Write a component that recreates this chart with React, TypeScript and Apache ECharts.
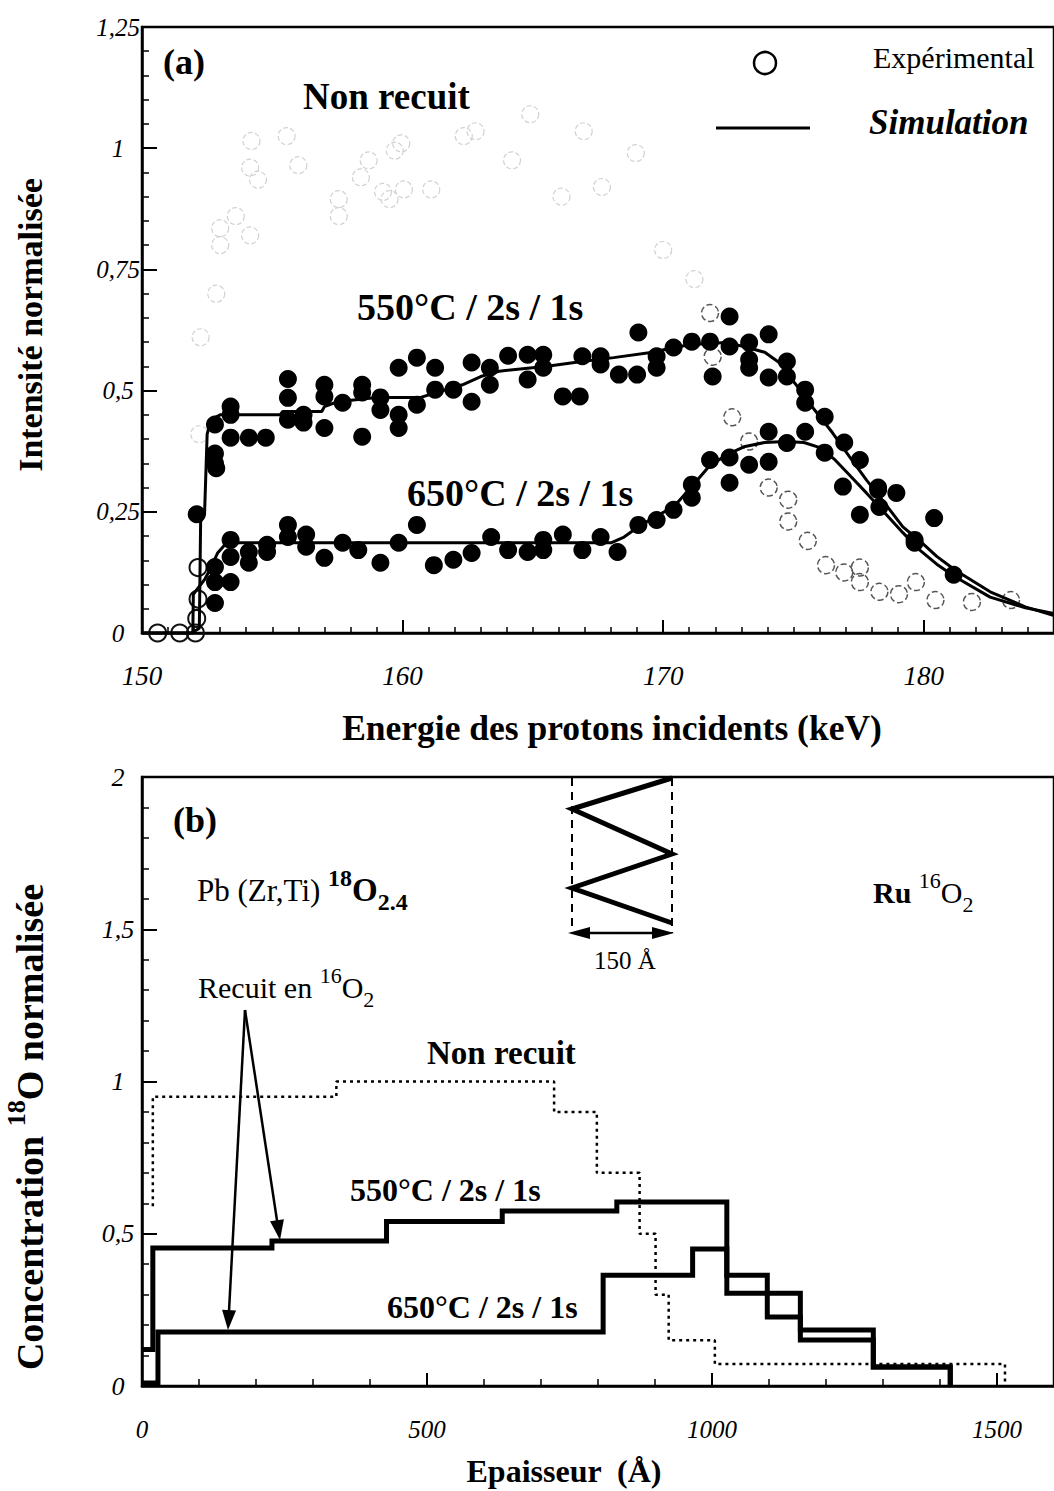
import React, { useEffect, useRef } from "react";
import * as echarts from "echarts";

const W = 1054;
const H = 1491;
const SERIF = '"Liberation Serif", "Times New Roman", serif';

// ---------- Panel (a) : spectres ----------
const aYTicks = [0, 0.25, 0.5, 0.75, 1, 1.25];
const aXRange = [150, 185];

// Non recuit, expérimental (cercles ouverts)
const aNonRecuit: [number, number][] = [
  [150.6, 0.0], [151.45, 0.0], [152.05, 0.0], [152.1, 0.03], [152.15, 0.07], [152.15, 0.135],
  [152.2, 0.41], [152.25, 0.61], [152.85, 0.7], [153.0, 0.8], [153.0, 0.835], [153.6, 0.86],
  [154.15, 0.82], [154.15, 0.96], [154.2, 1.015], [154.45, 0.935], [155.55, 1.025], [156.0, 0.965],
  [157.55, 0.86], [157.55, 0.895], [158.4, 0.94], [158.7, 0.975], [159.25, 0.91], [159.5, 0.895],
  [159.7, 0.995], [159.95, 1.01], [160.05, 0.915], [161.1, 0.915], [162.35, 1.025], [162.8, 1.035],
  [164.2, 0.975], [164.9, 1.07], [166.1, 0.9], [166.95, 1.035], [167.65, 0.92], [168.95, 0.99],
  [170.0, 0.79], [171.2, 0.73], [171.8, 0.66], [171.9, 0.57], [172.65, 0.445], [173.3, 0.395],
  [174.05, 0.3], [174.8, 0.275], [174.8, 0.23], [175.55, 0.19], [176.25, 0.14], [176.95, 0.125],
  [177.55, 0.135], [177.55, 0.105], [178.3, 0.085], [179.05, 0.08], [179.7, 0.105], [180.45, 0.068],
  [181.85, 0.064], [183.35, 0.068],
];

// 550°C / 2s / 1s, expérimental (points pleins)
const a550Exp: [number, number][] = [
  [152.1, 0.245], [152.8, 0.43], [152.8, 0.37], [152.8, 0.35], [152.85, 0.34], [153.4, 0.467],
  [153.4, 0.45], [153.4, 0.403], [154.1, 0.403], [154.75, 0.403], [155.6, 0.524], [155.6, 0.485],
  [155.6, 0.44], [156.2, 0.45], [156.2, 0.434], [157.0, 0.512], [157.0, 0.488], [157.0, 0.423],
  [157.7, 0.475], [158.45, 0.512], [158.45, 0.496], [158.45, 0.405], [159.15, 0.486], [159.15, 0.46],
  [159.85, 0.547], [159.85, 0.45], [159.85, 0.423], [160.55, 0.568], [160.55, 0.471], [161.25, 0.547],
  [161.25, 0.502], [161.95, 0.502], [162.65, 0.558], [162.65, 0.477], [163.35, 0.547], [163.35, 0.512],
  [164.05, 0.572], [164.8, 0.574], [164.8, 0.523], [165.4, 0.574], [165.4, 0.547], [166.15, 0.488],
  [166.8, 0.488], [166.9, 0.571], [167.6, 0.571], [167.6, 0.554], [168.3, 0.533], [169.0, 0.533],
  [169.05, 0.62], [169.75, 0.571], [169.75, 0.547], [170.4, 0.589], [171.1, 0.601], [171.8, 0.601],
  [171.9, 0.529], [172.55, 0.653], [172.55, 0.591], [173.3, 0.599], [173.3, 0.564], [173.3, 0.547],
  [174.05, 0.616], [174.05, 0.527], [174.75, 0.56], [174.75, 0.529], [175.45, 0.502], [175.45, 0.475],
  [176.2, 0.446], [176.95, 0.393], [177.55, 0.357], [178.25, 0.3], [178.95, 0.289], [179.65, 0.192],
  [180.4, 0.237], [181.15, 0.12],
];

// 650°C / 2s / 1s, expérimental (points pleins)
const a650Exp: [number, number][] = [
  [152.8, 0.136], [152.8, 0.105], [152.8, 0.062], [153.4, 0.192], [153.4, 0.157], [153.4, 0.105],
  [154.1, 0.167], [154.1, 0.145], [154.8, 0.182], [154.8, 0.167], [155.6, 0.223], [155.6, 0.198],
  [156.3, 0.203], [156.3, 0.178], [157.0, 0.155], [157.7, 0.186], [158.3, 0.171], [159.15, 0.145],
  [159.85, 0.186], [160.55, 0.223], [161.2, 0.14], [161.95, 0.151], [162.65, 0.165], [163.4, 0.198],
  [164.05, 0.171], [164.8, 0.167], [165.4, 0.192], [165.4, 0.171], [166.15, 0.203], [166.9, 0.171],
  [167.6, 0.198], [168.25, 0.167], [169.05, 0.223], [169.75, 0.233], [170.4, 0.254], [171.1, 0.306],
  [171.1, 0.279], [171.8, 0.357], [172.55, 0.362], [172.55, 0.31], [173.3, 0.347], [174.05, 0.415],
  [174.05, 0.353], [174.75, 0.392], [175.45, 0.415], [176.2, 0.372], [176.9, 0.302], [177.55, 0.244],
  [178.25, 0.295], [178.3, 0.26], [179.65, 0.186],
];

// Simulations
const a550Sim: [number, number][] = [
  [150, 0], [151.9, 0], [152.2, 0.01], [152.25, 0.23], [152.4, 0.245], [152.5, 0.41], [152.65, 0.44],
  [153.0, 0.45], [155.3, 0.45], [155.4, 0.457], [156.9, 0.457], [157.0, 0.467], [157.5, 0.477],
  [159.0, 0.486], [160.7, 0.486], [161.3, 0.496], [162.3, 0.512], [163.0, 0.529], [163.7, 0.54],
  [165.55, 0.55], [166.6, 0.558], [168.1, 0.568], [169.6, 0.579], [170.4, 0.589], [171.1, 0.595],
  [172.4, 0.599], [173.1, 0.591], [173.9, 0.579], [174.45, 0.558], [174.85, 0.529], [175.25, 0.502],
  [175.8, 0.461], [176.5, 0.413], [177.15, 0.364], [177.8, 0.316], [178.5, 0.268], [179.2, 0.219],
  [179.85, 0.19], [180.5, 0.158], [181.2, 0.13], [182.55, 0.085], [183.9, 0.054], [185, 0.036],
];
const a650Sim: [number, number][] = [
  [150, 0], [151.95, 0], [151.97, 0.08], [152.4, 0.11], [152.6, 0.13], [152.9, 0.165], [153.25, 0.186],
  [168.0, 0.186], [168.5, 0.198], [169.05, 0.219], [169.7, 0.24], [170.4, 0.26], [171.1, 0.302],
  [171.75, 0.343], [172.45, 0.368], [173.1, 0.384], [173.9, 0.393], [174.7, 0.395], [175.4, 0.393],
  [176.05, 0.382], [176.6, 0.357], [177.15, 0.326], [177.8, 0.289], [178.5, 0.248], [179.2, 0.207],
  [179.85, 0.171], [180.5, 0.142], [181.2, 0.116], [182.55, 0.074], [183.9, 0.052], [185, 0.04],
];

// ---------- Panel (b) : profils ----------
const bYTicks = [0, 0.5, 1, 1.5, 2];
const bXRange = [0, 1600];
const bNonRecuitStart = 0.59;
const bNonRecuitEdges = [19, 341, 723, 798, 873, 901, 924, 1005, 1514];
const bNonRecuitLevels = [0.95, 1.0, 0.9, 0.7, 0.5, 0.3, 0.15, 0.072];
const b550Edges = [0, 19, 228, 429, 632, 833, 1026, 1155, 1283, 1418];
const b550Levels = [0.12, 0.453, 0.476, 0.54, 0.575, 0.604, 0.305, 0.184, 0.062];
const b650Edges = [0, 28, 809, 966, 1026, 1097, 1155, 1283, 1418];
const b650Levels = [0.01, 0.177, 0.364, 0.45, 0.364, 0.227, 0.151, 0.062];

function stepPoints(edges: number[], levels: number[], start?: number): [number, number][] {
  const pts: [number, number][] = [];
  if (start !== undefined) pts.push([edges[0], start]);
  for (let i = 0; i < levels.length; i++) {
    pts.push([edges[i], levels[i]]);
    pts.push([edges[i + 1], levels[i]]);
  }
  pts.push([edges[edges.length - 1], 0]);
  return pts;
}

const comma = (v: number) => String(v).replace(".", ",");
const plain = (v: number) => String(v);

function txt(x: number, y: number, text: string, size: number, opts: any = {}) {
  return {
    type: "text",
    x,
    y,
    rotation: opts.rotation || 0,
    z: 100,
    style: {
      text,
      x: 0,
      y: 0,
      fill: "#000",
      fontFamily: SERIF,
      fontSize: size,
      fontWeight: opts.weight || "normal",
      fontStyle: opts.style || "normal",
      align: opts.align || "left",
      textAlign: opts.align || "left",
      verticalAlign: "middle",
      textVerticalAlign: "middle",
      lineHeight: opts.lineHeight,
      rich: opts.rich,
    },
  };
}

function arrow(from: [number, number], tip: [number, number], len = 20, half = 7) {
  const dx = tip[0] - from[0];
  const dy = tip[1] - from[1];
  const n = Math.hypot(dx, dy);
  const ux = dx / n;
  const uy = dy / n;
  const bx = tip[0] - ux * len;
  const by = tip[1] - uy * len;
  return [
    {
      type: "line",
      z: 100,
      shape: { x1: from[0], y1: from[1], x2: bx + ux * 2, y2: by + uy * 2 },
      style: { stroke: "#000", lineWidth: 2.5 },
    },
    {
      type: "polygon",
      z: 100,
      shape: {
        points: [
          [tip[0], tip[1]],
          [bx - uy * half, by + ux * half],
          [bx + uy * half, by - ux * half],
        ],
      },
      style: { fill: "#000" },
    },
  ];
}

function nonRecuitStyle(e: number, i: number) {
  const base = { color: "rgba(0,0,0,0)", opacity: 1 };
  if (e < 153 && i < 0.2) return { ...base, borderColor: "#111", borderWidth: 2 };
  if (e < 171.5 && i > 0.3) return { ...base, borderColor: "#d2d2d2", borderWidth: 1.2, borderType: "dashed" };
  return { ...base, borderColor: "#555", borderWidth: 1.5, borderType: "dashed" };
}

const axisLineStyle = { show: true, lineStyle: { color: "#000", width: 2.5 } };
const tickLabel = (size: number, extra: any = {}) => ({
  color: "#000",
  fontFamily: SERIF,
  fontStyle: "italic",
  fontSize: size,
  ...extra,
});

export default function App() {
  const ref = useRef<HTMLDivElement>(null);
  useEffect(() => {
    if (!ref.current) return;
    const chart = echarts.init(ref.current, undefined, { renderer: "svg", width: W, height: H });

    const supRich = (size: number, weight: string) => ({
      s: { fontSize: size, fontWeight: weight, fontFamily: SERIF, verticalAlign: "top", lineHeight: size },
      b: { fontSize: size, fontWeight: weight, fontFamily: SERIF, verticalAlign: "bottom", lineHeight: size - 4 },
    });

    const graphic: any[] = [
      // panel (a)
      txt(163, 62, "(a)", 36, { weight: "bold" }),
      txt(303, 96, "Non recuit", 37, { weight: "bold" }),
      txt(357, 307, "550°C / 2s / 1s", 38, { weight: "bold" }),
      txt(407, 493, "650°C / 2s / 1s", 38, { weight: "bold" }),
      { type: "circle", z: 100, shape: { cx: 765, cy: 63, r: 11 }, style: { fill: "none", stroke: "#000", lineWidth: 2.5 } },
      txt(873, 57, "Expérimental", 30),
      { type: "line", z: 100, shape: { x1: 716, y1: 128, x2: 810, y2: 128 }, style: { stroke: "#000", lineWidth: 3 } },
      txt(869, 122, "Simulation", 35, { weight: "bold", style: "italic" }),
      txt(612, 728, "Energie des protons incidents (keV)", 35.5, { weight: "bold", align: "center" }),
      txt(30, 325, "Intensité normalisée", 34, { weight: "bold", align: "center", rotation: Math.PI / 2 }),
      // panel (b)
      txt(173, 820, "(b)", 36, { weight: "bold" }),
      txt(197, 890, "Pb (Zr,Ti) {s|18}{o|O}{b|2.4}", 31, {
        lineHeight: 48,
        rich: {
          ...supRich(24, "bold"),
          o: { fontSize: 33, fontWeight: "bold", fontFamily: SERIF, lineHeight: 48 },
        },
      }),
      txt(198, 987, "Recuit en {s|16}O{b|2}", 30, { lineHeight: 46, rich: supRich(22, "normal") }),
      txt(873, 892, "{r|Ru} {s|16}O{b|2}", 30, {
        lineHeight: 46,
        rich: { ...supRich(22, "normal"), r: { fontSize: 30, fontWeight: "bold", fontFamily: SERIF, lineHeight: 46 } },
      }),
      txt(427, 1053, "Non recuit", 33, { weight: "bold" }),
      txt(350, 1190, "550°C / 2s / 1s", 32, { weight: "bold" }),
      txt(387, 1307, "650°C / 2s / 1s", 32, { weight: "bold" }),
      txt(625, 960, "150 Å", 25, { align: "center" }),
      {
        type: "polyline",
        z: 100,
        shape: { points: [[672, 778], [572, 809], [672, 854], [572, 888], [672, 923]] },
        style: { stroke: "#000", lineWidth: 5, fill: "none", lineJoin: "miter" },
      },
      { type: "line", z: 100, shape: { x1: 572, y1: 778, x2: 572, y2: 933 }, style: { stroke: "#000", lineWidth: 2, lineDash: [8, 6] } },
      { type: "line", z: 100, shape: { x1: 672, y1: 778, x2: 672, y2: 933 }, style: { stroke: "#000", lineWidth: 2, lineDash: [8, 6] } },
      ...arrow([620, 933], [568, 933], 22, 6),
      ...arrow([620, 933], [674, 933], 22, 6),
      ...arrow([245, 1010], [280, 1240]),
      ...arrow([245, 1010], [228, 1330]),
      txt(564, 1471, "Epaisseur  (Å)", 32, { weight: "bold", align: "center" }),
      txt(30, 1127, "Concentration {s|18}O normalisée", 38, {
        weight: "bold",
        align: "center",
        rotation: Math.PI / 2,
        lineHeight: 54,
        rich: { s: { fontSize: 26, fontWeight: "bold", fontFamily: SERIF, verticalAlign: "top", lineHeight: 28 } },
      }),
    ];

    const option: any = {
      animation: false,
      backgroundColor: "#fff",
      grid: [
        { left: 142, top: 27, width: 917, height: 606, show: true, borderColor: "#000", borderWidth: 2.5, backgroundColor: "transparent" },
        { left: 142, top: 777, width: 914, height: 609, show: true, borderColor: "#000", borderWidth: 2.5, backgroundColor: "transparent" },
      ],
      xAxis: [
        {
          gridIndex: 0,
          type: "value",
          min: aXRange[0],
          max: aXRange[1],
          interval: 10,
          axisLine: axisLineStyle,
          axisTick: { show: true, inside: true, length: 13, lineStyle: { color: "#000", width: 2 } },
          minorTick: { show: true, splitNumber: 10, length: 6, lineStyle: { color: "#000", width: 1.5 } },
          splitLine: { show: false },
          minorSplitLine: { show: false },
          axisLabel: tickLabel(27, { margin: 29, showMaxLabel: false, formatter: plain }),
        },
        {
          gridIndex: 1,
          type: "value",
          min: bXRange[0],
          max: bXRange[1],
          interval: 500,
          axisLine: axisLineStyle,
          axisTick: { show: true, inside: true, length: 13, lineStyle: { color: "#000", width: 2 } },
          minorTick: { show: true, splitNumber: 5, length: 7, lineStyle: { color: "#000", width: 1.5 } },
          splitLine: { show: false },
          minorSplitLine: { show: false },
          axisLabel: tickLabel(25, { margin: 31, showMaxLabel: false, formatter: plain }),
        },
      ],
      yAxis: [
        {
          gridIndex: 0,
          type: "value",
          min: aYTicks[0],
          max: aYTicks[aYTicks.length - 1],
          interval: aYTicks[1] - aYTicks[0],
          axisLine: axisLineStyle,
          axisTick: { show: true, inside: true, length: 15, lineStyle: { color: "#000", width: 2 } },
          minorTick: { show: true, splitNumber: 5, length: 7, lineStyle: { color: "#000", width: 1.5 } },
          splitLine: { show: false },
          minorSplitLine: { show: false },
          axisLabel: tickLabel(25, { margin: 24, align: "center", formatter: comma }),
        },
        {
          gridIndex: 1,
          type: "value",
          min: bYTicks[0],
          max: bYTicks[bYTicks.length - 1],
          interval: bYTicks[1] - bYTicks[0],
          axisLine: axisLineStyle,
          axisTick: { show: true, inside: true, length: 15, lineStyle: { color: "#000", width: 2 } },
          minorTick: { show: true, splitNumber: 5, length: 7, lineStyle: { color: "#000", width: 1.5 } },
          splitLine: { show: false },
          minorSplitLine: { show: false },
          axisLabel: tickLabel(26, { margin: 24, align: "center", formatter: comma }),
        },
      ],
      series: [
        {
          name: "Non recuit (exp.)",
          type: "scatter",
          xAxisIndex: 0,
          yAxisIndex: 0,
          symbol: "circle",
          symbolSize: 17,
          z: 1,
          data: aNonRecuit.map(([e, i]) => ({ value: [e, i], itemStyle: nonRecuitStyle(e, i) })),
        },
        {
          name: "550°C sim",
          type: "line",
          xAxisIndex: 0,
          yAxisIndex: 0,
          showSymbol: false,
          z: 2,
          lineStyle: { color: "#000", width: 3 },
          data: a550Sim,
        },
        {
          name: "650°C sim",
          type: "line",
          xAxisIndex: 0,
          yAxisIndex: 0,
          showSymbol: false,
          z: 2,
          lineStyle: { color: "#000", width: 3 },
          data: a650Sim,
        },
        {
          name: "550°C exp",
          type: "scatter",
          xAxisIndex: 0,
          yAxisIndex: 0,
          symbolSize: 18,
          z: 3,
          itemStyle: { color: "#000", opacity: 1 },
          data: a550Exp,
        },
        {
          name: "650°C exp",
          type: "scatter",
          xAxisIndex: 0,
          yAxisIndex: 0,
          symbolSize: 18,
          z: 3,
          itemStyle: { color: "#000", opacity: 1 },
          data: a650Exp,
        },
        {
          name: "Non recuit (profil)",
          type: "line",
          xAxisIndex: 1,
          yAxisIndex: 1,
          showSymbol: false,
          z: 2,
          lineStyle: { color: "#000", width: 2.5, type: [3, 4] },
          data: stepPoints(bNonRecuitEdges, bNonRecuitLevels, bNonRecuitStart),
        },
        {
          name: "550°C (profil)",
          type: "line",
          xAxisIndex: 1,
          yAxisIndex: 1,
          showSymbol: false,
          z: 3,
          lineStyle: { color: "#000", width: 5, join: "miter" },
          data: stepPoints(b550Edges, b550Levels),
        },
        {
          name: "650°C (profil)",
          type: "line",
          xAxisIndex: 1,
          yAxisIndex: 1,
          showSymbol: false,
          z: 3,
          lineStyle: { color: "#000", width: 5, join: "miter" },
          data: stepPoints(b650Edges, b650Levels),
        },
      ],
      graphic,
    };
    chart.setOption(option);
    return () => chart.dispose();
  }, []);

  return (
    <div
      ref={ref}
      style={{ position: "absolute", left: 0, top: 0, width: W, height: H, background: "#fff", overflow: "hidden" }}
    />
  );
}
